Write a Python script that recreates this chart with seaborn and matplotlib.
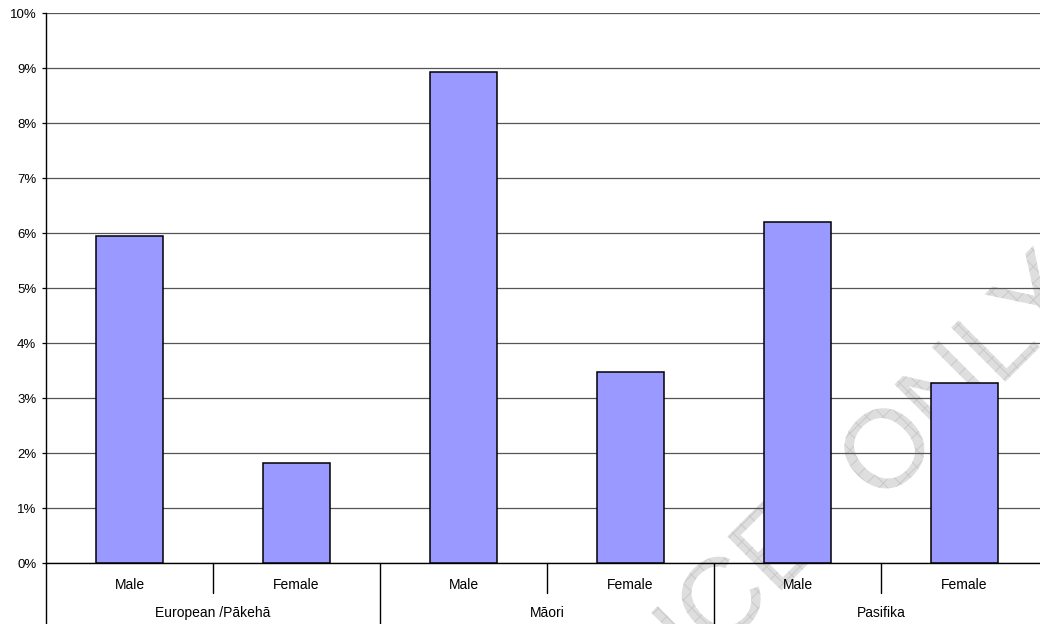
import matplotlib
matplotlib.use("Agg")
import matplotlib.pyplot as plt
import matplotlib.transforms as mtransforms
from matplotlib.lines import Line2D
from matplotlib.patches import PathPatch
from matplotlib.textpath import TextPath
from matplotlib.font_manager import FontProperties
import seaborn as sns
import pandas as pd

# Data: percentage by ethnic group and sex
groups = ["European /Pākehā", "Māori", "Pasifika"]
sexes = ["Male", "Female"]
rates = [5.95, 1.82, 8.93, 3.47, 6.20, 3.28]
y_ticks = [0, 1, 2, 3, 4, 5, 6, 7, 8, 9, 10]

rows = []
i = 0
for g in groups:
    for s in sexes:
        rows.append({"cat": f"{g}|{s}", "group": g, "sex": s, "rate": rates[i]})
        i += 1
df = pd.DataFrame(rows)

sns.set_style("white")
plt.rcParams["font.family"] = ["Liberation Sans", "DejaVu Sans"]
plt.rcParams["hatch.linewidth"] = 0.7

W, H = 1040, 624
DPI = 100
fig = plt.figure(figsize=(W / DPI, H / DPI), dpi=DPI)
fig.patch.set_facecolor("white")

# Plot area in pixels
left_px, right_px, top_px, bottom_px = 46, 1040, 13.3, 563.3
ax = fig.add_axes([left_px / W, 1 - bottom_px / H,
                   (right_px - left_px) / W, (bottom_px - top_px) / H])
ax.patch.set_alpha(0)

# Faint hatched diagonal watermark behind everything
wm_font = FontProperties(family="Liberation Sans", size=80)
def watermark(word, x_px, y_px, align):
    path = TextPath((0, 0), word, prop=wm_font)
    ext = path.get_extents()
    shift = -ext.x1 if align == "right" else 0.0
    pt = 72.0 / DPI
    tr = (mtransforms.Affine2D().translate(shift, 0).rotate_deg(45)
          .translate(x_px * pt, (H - y_px) * pt)
          + mtransforms.Affine2D().scale(1 / 72.0) + fig.dpi_scale_trans)
    patch = PathPatch(path, transform=tr, facecolor="#dedede",
                      edgecolor="#c9c9c9", hatch="xx", linewidth=0,
                      zorder=-5)
    fig.add_artist(patch)

watermark("REFERENCE", 824, 548, "right")
watermark("ONLY", 881, 506, "left")

sns.barplot(data=df, x="cat", y="rate", order=df["cat"].tolist(),
            color="#9999ff", saturation=1, width=0.4,
            edgecolor="black", linewidth=1.1, ax=ax, zorder=3)

cat_px = 167.0
ax.set_xlim(-0.5, -0.5 + (right_px - left_px) / cat_px)
ax.set_ylim(0, 10)

ax.set_yticks(y_ticks)
ax.set_yticklabels([f"{v}%" for v in y_ticks])
ax.yaxis.grid(True, color="#555555", linewidth=0.9, zorder=1)
ax.xaxis.grid(False)
ax.set_axisbelow(True)

for side in ["top", "right"]:
    ax.spines[side].set_visible(False)
for side in ["left", "bottom"]:
    ax.spines[side].set_color("black")
    ax.spines[side].set_linewidth(1.0)

ax.tick_params(axis="y", which="both", left=True, length=3, width=0.9,
               color="black", pad=4, labelsize=9.5, labelcolor="black")
ax.tick_params(axis="x", which="both", bottom=False, length=0,
               labelbottom=False)
ax.set_xlabel("")
ax.set_ylabel("")

# Two-level category axis below the plot
plot_h = bottom_px - top_px
def ay(px_below):
    return -px_below / plot_h

trans = mtransforms.blended_transform_factory(ax.transData, ax.transAxes)

for k, s in enumerate(df["sex"]):
    ax.text(k, ay(21.5), s, transform=trans, ha="center", va="center",
            fontsize=10, color="black", clip_on=False)

for gi, g in enumerate(groups):
    ax.text(gi * 2 + 0.5, ay(49.5), g, transform=trans, ha="center",
            va="center", fontsize=10, color="black", clip_on=False)

# Separators between sexes (short) and between groups (long)
for gi in range(len(groups)):
    xs = gi * 2 + 0.5
    ax.add_line(Line2D([xs, xs], [0, ay(30)], transform=trans,
                       color="black", linewidth=1.0, clip_on=False))
for gi in range(len(groups)):
    xg = gi * 2 - 0.5
    ax.add_line(Line2D([xg, xg], [0, ay(H - bottom_px + 2)], transform=trans,
                       color="black", linewidth=1.0, clip_on=False))

fig.savefig("out.png", dpi=DPI, facecolor="white")
